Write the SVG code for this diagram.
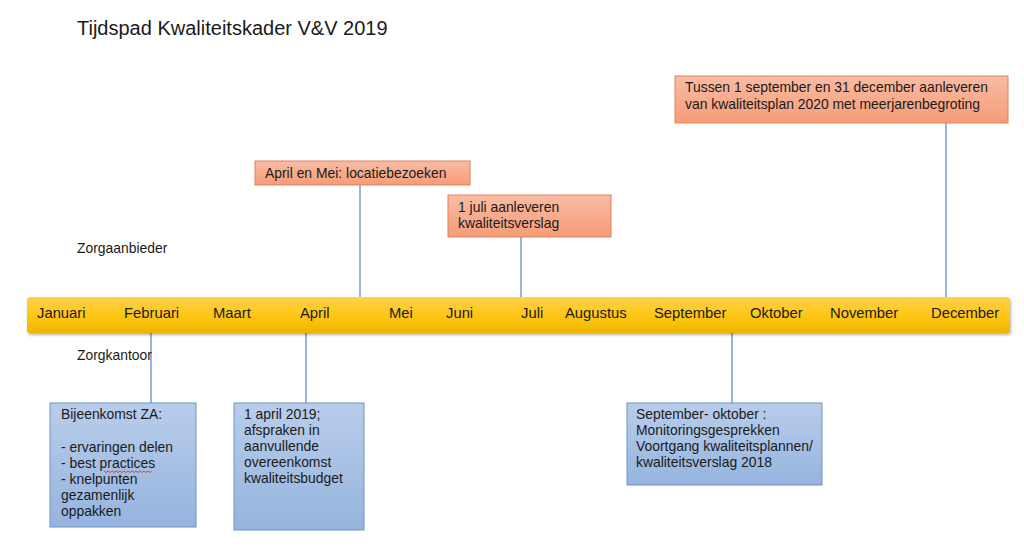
<svg xmlns="http://www.w3.org/2000/svg" width="1024" height="548" viewBox="0 0 1024 548">
<defs>
<linearGradient id="gYellow" x1="0" y1="0" x2="0" y2="1">
<stop offset="0" stop-color="#FFD24A"/>
<stop offset="0.6" stop-color="#FDC40C"/>
<stop offset="1" stop-color="#EDB500"/>
</linearGradient>
<linearGradient id="gOrange" x1="0" y1="0" x2="0" y2="1">
<stop offset="0" stop-color="#F9BCA3"/>
<stop offset="1" stop-color="#F59C78"/>
</linearGradient>
<linearGradient id="gBlue" x1="0" y1="0" x2="0" y2="1">
<stop offset="0" stop-color="#B9CDEA"/>
<stop offset="1" stop-color="#95B4DE"/>
</linearGradient>
<filter id="sh" x="-5%" y="-20%" width="110%" height="150%">
<feDropShadow dx="1" dy="2" stdDeviation="1.5" flood-color="#000" flood-opacity="0.3"/>
</filter>
</defs>
<style>
text{font-family:"Liberation Sans",Arial,sans-serif;fill:#1a1a1a}
.m{font-size:14.8px}
.t{font-size:13.9px}
.o{fill:url(#gOrange);stroke:#E0825C;stroke-width:1}
.b{fill:url(#gBlue);stroke:#6F93C6;stroke-width:1}
.c{stroke:#5B7FC8;stroke-width:1.2;fill:none}
</style>
<rect width="1024" height="548" fill="#fff"/>
<text x="77" y="35" style="font-size:20px">Tijdspad Kwaliteitskader V&amp;V 2019</text>
<g id="connectors">
<line class="c" x1="360" y1="185" x2="360" y2="297"/>
<line class="c" x1="521" y1="237" x2="521" y2="297"/>
<line class="c" x1="946" y1="123" x2="946" y2="297"/>
<line class="c" x1="151" y1="333" x2="151" y2="403"/>
<line class="c" x1="306" y1="333" x2="306" y2="403"/>
<line class="c" x1="732" y1="333" x2="732" y2="403"/>
</g>
<g id="timeline">
<rect x="27" y="297" width="983" height="36" rx="3" fill="url(#gYellow)" filter="url(#sh)"/>
<text class="m" x="37" y="318">Januari</text>
<text class="m" x="124" y="318">Februari</text>
<text class="m" x="213" y="318">Maart</text>
<text class="m" x="300" y="318">April</text>
<text class="m" x="389" y="318">Mei</text>
<text class="m" x="446" y="318">Juni</text>
<text class="m" x="521" y="318">Juli</text>
<text class="m" x="565" y="318">Augustus</text>
<text class="m" x="654" y="318">September</text>
<text class="m" x="750" y="318">Oktober</text>
<text class="m" x="830" y="318">November</text>
<text class="m" x="931" y="318">December</text>
</g>
<g id="lbl-zorgaanbieder"><text class="t" x="77" y="253">Zorgaanbieder</text></g>
<g id="lbl-zorgkantoor"><text class="t" x="77" y="360">Zorgkantoor</text></g>
<g id="n-april-mei">
<rect class="o" x="255" y="161" width="215" height="24"/>
<text class="t" x="265" y="178">April en Mei: locatiebezoeken</text>
</g>
<g id="n-1juli">
<rect class="o" x="448" y="195" width="163" height="42"/>
<text class="t" x="458" y="212">1 juli aanleveren</text>
<text class="t" x="458" y="228">kwaliteitsverslag</text>
</g>
<g id="n-tussen">
<rect class="o" x="675" y="76" width="333" height="47"/>
<text class="t" x="685" y="92">Tussen 1 september en 31 december aanleveren</text>
<text class="t" x="685" y="109">van kwaliteitsplan 2020 met meerjarenbegroting</text>
</g>
<g id="n-bijeenkomst">
<rect class="b" x="50" y="403" width="146" height="124"/>
<text class="t" x="61" y="419">Bijeenkomst ZA:</text>
<text class="t" x="61" y="452">- ervaringen delen</text>
<text class="t" x="61" y="468">- best practices</text>
<path d="M104 471 l2 1.5 l2 -1.5 l2 1.5 l2 -1.5 l2 1.5 l2 -1.5 l2 1.5 l2 -1.5 l2 1.5 l2 -1.5 l2 1.5 l2 -1.5 l2 1.5 l2 -1.5 l2 1.5 l2 -1.5 l2 1.5 l2 -1.5 l2 1.5 l2 -1.5 l2 1.5 l2 -1.5 l2 1.5 l2 -1.5" fill="none" stroke="#D03030" stroke-width="0.8"/>
<text class="t" x="61" y="484">- knelpunten</text>
<text class="t" x="61" y="500">gezamenlijk</text>
<text class="t" x="61" y="516">oppakken</text>
</g>
<g id="n-1april">
<rect class="b" x="234" y="403" width="130" height="127"/>
<text class="t" x="244" y="419">1 april 2019;</text>
<text class="t" x="244" y="435">afspraken in</text>
<text class="t" x="244" y="451">aanvullende</text>
<text class="t" x="244" y="467">overeenkomst</text>
<text class="t" x="244" y="483">kwaliteitsbudget</text>
</g>
<g id="n-sept-okt">
<rect class="b" x="627" y="403" width="195" height="82"/>
<text class="t" x="636" y="419">September- oktober :</text>
<text class="t" x="636" y="435">Monitoringsgesprekken</text>
<text class="t" x="636" y="451">Voortgang kwaliteitsplannen/</text>
<text class="t" x="636" y="467">kwaliteitsverslag 2018</text>
</g>
</svg>
